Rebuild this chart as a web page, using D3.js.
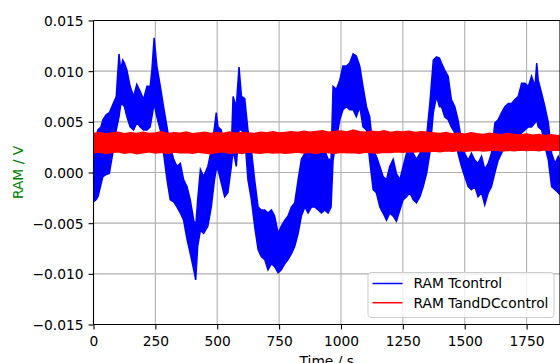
<!DOCTYPE html>
<html>
<head>
<meta charset="utf-8">
<script src="https://cdn.jsdelivr.net/npm/d3@7"></script>
<style>
  body { margin: 0; background: #fff; }
  svg { display: block; font-family: "DejaVu Sans", sans-serif; }
</style>
</head>
<body>
<div id="chart"></div>
<script>
// RAM Tcontrol, min/max envelope (time in s, volts)
const blueT = [0, 10, 18, 30, 38, 51, 64, 78, 92, 103, 110, 118, 125, 135, 148, 162, 175, 189, 202, 216,
  229, 236, 245, 256, 270, 283, 297, 310, 324, 337, 351, 364, 378, 391, 405, 413, 421, 432, 445, 462,
  476, 489, 496, 503, 516, 530, 543, 557, 564, 577, 588, 598, 611, 624, 638, 651, 665, 678, 692, 705,
  719, 732, 746, 759, 773, 786, 800, 813, 827, 840, 854, 867, 881, 894, 908, 921, 934, 948, 960, 968,
  981, 995, 1008, 1022, 1035, 1049, 1062, 1076, 1089, 1103, 1116, 1130, 1143, 1157, 1170, 1184, 1197, 1211, 1224, 1238,
  1251, 1265, 1278, 1292, 1305, 1319, 1332, 1346, 1359, 1373, 1386, 1398, 1406, 1419, 1433, 1446, 1460, 1473, 1487, 1500,
  1514, 1527, 1541, 1554, 1568, 1581, 1595, 1608, 1622, 1635, 1649, 1662, 1676, 1689, 1703, 1716, 1730, 1743, 1757, 1770,
  1784, 1791, 1797, 1811, 1824, 1838, 1851, 1865, 1878, 1885];
const blueHi = [0.0030, 0.0035, 0.0042, 0.0045, 0.0052, 0.0057, 0.0059, 0.0067, 0.0075, 0.0117, 0.0101, 0.0111, 0.0108, 0.0101, 0.0085, 0.0075, 0.0087, 0.0080, 0.0072, 0.0085,
  0.0085, 0.0101, 0.0133, 0.0105, 0.0085, 0.0065, 0.0045, 0.0026, 0.0013, 0.0006, 0.0009, -0.0007, -0.0014, -0.0027, -0.0047, -0.0053, -0.0027, 0.0003, -0.0004, 0.0006,
  0.0022, 0.0045, 0.0059, 0.0045, 0.0042, 0.0022, 0.0019, 0.0026, 0.0075, 0.0065, 0.0104, 0.0075, 0.0073, 0.0042, 0.0022, -0.0007, -0.0034, -0.0037, -0.0037, -0.0040,
  -0.0037, -0.0043, -0.0060, -0.0053, -0.0047, -0.0043, -0.0034, -0.0030, -0.0007, 0.0013, 0.0019, 0.0022, 0.0026, 0.0026, 0.0022, 0.0026, 0.0022, 0.0013, 0.0013, 0.0085,
  0.0082, 0.0091, 0.0105, 0.0105, 0.0108, 0.0117, 0.0115, 0.0105, 0.0085, 0.0065, 0.0055, 0.0022, 0.0016, 0.0006, -0.0004, -0.0007, 0.0006, 0.0013, -0.0001, -0.0007,
  0.0006, 0.0019, 0.0026, 0.0019, 0.0013, 0.0019, 0.0026, 0.0036, 0.0068, 0.0111, 0.0114, 0.0113, 0.0108, 0.0101, 0.0095, 0.0072, 0.0065, 0.0052, 0.0032, 0.0019,
  0.0012, 0.0019, 0.0012, 0.0009, 0.0016, 0.0003, 0.0009, 0.0019, 0.0049, 0.0052, 0.0059, 0.0065, 0.0068, 0.0068, 0.0072, 0.0075, 0.0088, 0.0088, 0.0085, 0.0095,
  0.0085, 0.0108, 0.0091, 0.0078, 0.0065, 0.0049, 0.0019, 0.0009, 0.0016, 0.0012];
const blueLo = [-0.0029, -0.0027, -0.0024, -0.0012, -0.0004, -0.0002, -0.0001, 0.0019, 0.0042, 0.0055, 0.0067, 0.0067, 0.0065, 0.0055, 0.0045, 0.0042, 0.0049, 0.0045, 0.0042, 0.0042,
  0.0045, 0.0055, 0.0068, 0.0055, 0.0042, 0.0019, -0.0007, -0.0027, -0.0029, -0.0034, -0.0040, -0.0047, -0.0066, -0.0080, -0.0096, -0.0106, -0.0073, -0.0057, -0.0060, -0.0053,
  -0.0034, -0.0007, 0.0003, 0.0003, -0.0010, -0.0024, -0.0020, 0.0006, 0.0022, 0.0006, 0.0042, 0.0042, 0.0036, -0.0007, -0.0027, -0.0053, -0.0076, -0.0083, -0.0086, -0.0096,
  -0.0090, -0.0093, -0.0099, -0.0096, -0.0090, -0.0086, -0.0080, -0.0073, -0.0060, -0.0043, -0.0034, -0.0040, -0.0034, -0.0034, -0.0037, -0.0040, -0.0037, -0.0040, -0.0034, 0.0012,
  0.0032, 0.0052, 0.0062, 0.0065, 0.0062, 0.0062, 0.0055, 0.0065, 0.0045, 0.0042, 0.0012, -0.0017, -0.0020, -0.0034, -0.0040, -0.0047, -0.0040, -0.0043, -0.0048, -0.0037,
  -0.0027, -0.0024, -0.0020, -0.0027, -0.0030, -0.0024, -0.0014, -0.0001, 0.0019, 0.0059, 0.0075, 0.0065, 0.0065, 0.0055, 0.0052, 0.0045, 0.0039, 0.0019, 0.0006, -0.0004,
  -0.0014, -0.0017, -0.0014, -0.0024, -0.0020, -0.0032, -0.0020, -0.0014, 0.0000, 0.0012, 0.0019, 0.0026, 0.0029, 0.0032, 0.0029, 0.0036, 0.0039, 0.0042, 0.0045, 0.0045,
  0.0049, 0.0052, 0.0045, 0.0042, 0.0026, 0.0012, -0.0014, -0.0017, -0.0020, -0.0022];

// RAM TandDCcontrol, min/max envelope (mV)
const redT = [0, 25, 50, 75, 100, 125, 150, 175, 200, 225, 250, 275, 300, 325, 350, 375, 400, 425, 450, 475,
  500, 525, 550, 575, 600, 625, 650, 675, 700, 725, 750, 775, 800, 825, 850, 875, 900, 925, 950, 975,
  1000, 1025, 1050, 1075, 1100, 1125, 1150, 1175, 1200, 1225, 1250, 1275, 1300, 1325, 1350, 1375, 1400, 1425, 1450, 1475,
  1500, 1525, 1550, 1575, 1600, 1625, 1650, 1675, 1700, 1725, 1750, 1775, 1800, 1825, 1850, 1875, 1885];
const redHi = [3.85, 3.95, 3.80, 3.90, 3.98, 3.82, 3.92, 3.86, 3.97, 3.84, 3.90, 4.02, 3.85, 3.93, 3.88, 3.99, 3.83, 3.91, 3.96, 3.86,
  3.94, 3.88, 4.00, 3.87, 3.95, 3.90, 3.84, 3.97, 3.92, 4.03, 3.89, 3.96, 4.02, 3.95, 4.08, 3.98, 4.05, 4.12, 3.97, 4.04,
  4.10, 3.99, 4.20, 4.03, 3.98, 4.07, 4.00, 4.12, 3.96, 4.05, 3.99, 4.08, 3.94, 4.02, 3.97, 3.90, 3.84, 3.95, 3.80, 3.88,
  3.78, 3.92, 3.82, 3.76, 3.87, 3.79, 3.72, 3.84, 3.75, 3.70, 3.80, 3.68, 3.76, 3.65, 3.72, 3.62, 3.68].map(v => v / 1000);
const redLo = [1.95, 2.02, 1.88, 1.98, 2.05, 1.90, 2.00, 1.85, 1.96, 2.04, 1.92, 1.99, 1.87, 2.03, 1.94, 1.98, 1.89, 2.01, 1.93, 1.86,
  1.99, 2.04, 1.91, 1.97, 1.88, 2.02, 1.95, 1.90, 2.00, 1.93, 1.98, 1.89, 1.96, 2.03, 1.92, 1.99, 1.88, 2.02, 1.95, 1.90,
  2.00, 1.94, 1.98, 1.91, 2.03, 1.96, 1.92, 2.00, 1.97, 2.05, 1.99, 2.08, 2.02, 2.10, 2.04, 2.12, 2.06, 2.15, 2.09, 2.18,
  2.10, 2.14, 2.20, 2.12, 2.17, 2.22, 2.13, 2.19, 2.15, 2.23, 2.16, 2.21, 2.14, 2.24, 2.18, 2.22, 2.20].map(v => v / 1000);

const xTicks = [0, 250, 500, 750, 1000, 1250, 1500, 1750];
const yTicks = [-0.015, -0.010, -0.005, 0.000, 0.005, 0.010, 0.015];
const seriesNames = ['RAM Tcontrol', 'RAM TandDCcontrol'];
const seriesColors = ['#0000ff', '#ff0000'];

const width = 560, height = 363;
const mLeft = 93.5, mTop = 20.5, mRight = 560, mBottom = 324.5;
const fontSize = 13.8;

const svg = d3.select('#chart').append('svg')
  .attr('width', width)
  .attr('height', height);

const x = d3.scaleLinear().domain([0, 1885]).range([mLeft, mRight]);
const y = d3.scaleLinear().domain([-0.015, 0.015]).range([mBottom, mTop]);

// grid
const grid = svg.append('g').attr('stroke', '#b0b0b0').attr('stroke-width', 1.1);
grid.selectAll('.gx').data(xTicks).join('line')
  .attr('x1', d => x(d)).attr('x2', d => x(d))
  .attr('y1', mTop).attr('y2', mBottom);
grid.selectAll('.gy').data(yTicks).join('line')
  .attr('x1', mLeft).attr('x2', mRight)
  .attr('y1', d => y(d)).attr('y2', d => y(d));

svg.append('clipPath').attr('id', 'clip')
  .append('rect').attr('x', mLeft).attr('y', mTop).attr('width', mRight - mLeft).attr('height', mBottom - mTop);

const plot = svg.append('g').attr('clip-path', 'url(#clip)');

function drawBand(ts, lo, hi, color) {
  const idx = d3.range(ts.length);
  const area = d3.area()
    .x(i => x(ts[i]))
    .y0(i => y(lo[i]))
    .y1(i => y(hi[i]));
  plot.append('path').datum(idx)
    .attr('d', area)
    .attr('fill', color);
  [lo, hi].forEach(arr => {
    const line = d3.line().x(i => x(ts[i])).y(i => y(arr[i]));
    plot.append('path').datum(idx)
      .attr('d', line)
      .attr('fill', 'none')
      .attr('stroke', color)
      .attr('stroke-width', 1.5)
      .attr('stroke-linejoin', 'miter');
  });
}

drawBand(blueT, blueLo, blueHi, seriesColors[0]);
drawBand(redT, redLo, redHi, seriesColors[1]);

// axes
const xAxis = svg.append('g')
  .attr('transform', `translate(0,${mBottom})`)
  .call(d3.axisBottom(x).tickValues(xTicks).tickSize(4.9).tickPadding(6.4).tickSizeOuter(0).tickFormat(d3.format('d')));
const yAxis = svg.append('g')
  .attr('transform', `translate(${mLeft},0)`)
  .call(d3.axisLeft(y).tickValues(yTicks).tickSize(4.9).tickPadding(5.1).tickSizeOuter(0).tickFormat(d3.format('.3f')));

[xAxis, yAxis].forEach(a => {
  a.select('.domain').remove();
  a.selectAll('.tick line').attr('stroke', '#000').attr('stroke-width', 1.1);
  a.selectAll('.tick text')
    .attr('fill', '#000')
    .style('font-size', fontSize + 'px')
    .style('font-family', '"DejaVu Sans", sans-serif');
});
yAxis.selectAll('.tick text').attr('dy', '0.36em');

// spines
const spines = svg.append('g').attr('stroke', '#000').attr('stroke-width', 1.1).attr('fill', 'none');
spines.append('line').attr('x1', mLeft).attr('x2', mLeft).attr('y1', mTop).attr('y2', mBottom);
spines.append('line').attr('x1', mLeft).attr('x2', mRight).attr('y1', mTop).attr('y2', mTop);
spines.append('line').attr('x1', mLeft).attr('x2', mRight).attr('y1', mBottom).attr('y2', mBottom);
spines.append('line').attr('x1', mRight).attr('x2', mRight).attr('y1', mTop).attr('y2', mBottom);

// labels
svg.append('text')
  .attr('transform', `translate(23,${(mTop + mBottom) / 2}) rotate(-90)`)
  .attr('text-anchor', 'middle')
  .attr('fill', 'green')
  .style('font-size', fontSize + 'px')
  .text('RAM / V');

// x label sits partly below the bottom edge, as in the reference
svg.append('text')
  .attr('x', (mLeft + mRight) / 2)
  .attr('y', 365.7)
  .attr('text-anchor', 'middle')
  .attr('fill', '#000')
  .style('font-size', fontSize + 'px')
  .text('Time / s');

// legend
const legend = svg.append('g');
legend.append('rect')
  .attr('x', 368).attr('y', 272.5)
  .attr('width', 186).attr('height', 45)
  .attr('rx', 3)
  .attr('fill', '#fff').attr('fill-opacity', 0.8)
  .attr('stroke', '#cccccc').attr('stroke-width', 1);
const items = legend.selectAll('.item').data(seriesNames).join('g')
  .attr('transform', (d, i) => `translate(372.5,${283.5 + i * 19.2})`);
items.append('line')
  .attr('x1', 0).attr('x2', 30)
  .attr('stroke', (d, i) => seriesColors[i])
  .attr('stroke-width', 1.5);
items.append('text')
  .attr('x', 41).attr('y', 4.9)
  .attr('fill', '#000')
  .style('font-size', fontSize + 'px')
  .text(d => d);
</script>
</body>
</html>
